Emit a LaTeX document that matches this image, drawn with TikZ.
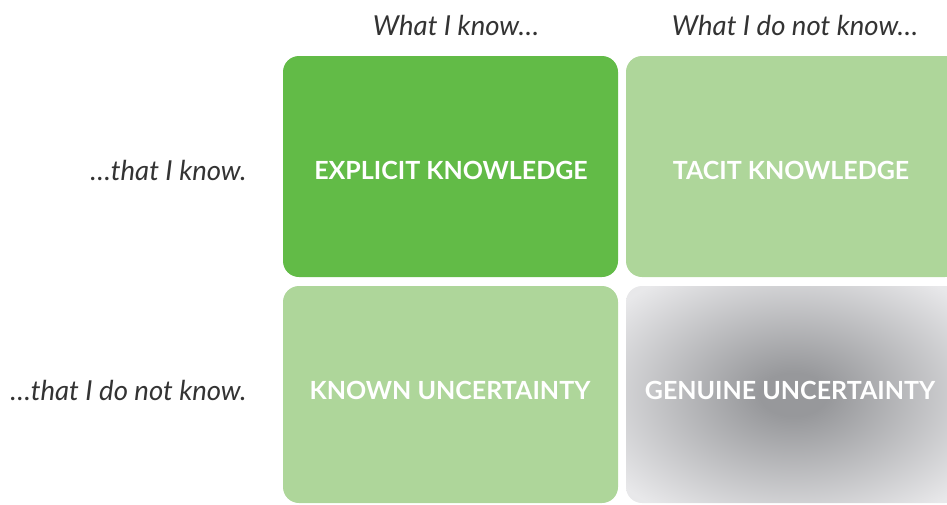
\documentclass[tikz,border=0pt]{standalone}
\usepackage{fontspec}
\setmainfont{Lato}
\definecolor{darkgreen}{HTML}{62BB47}
\definecolor{lightgreen}{HTML}{AED69A}
\definecolor{gcen}{HTML}{97989B}
\definecolor{gout}{HTML}{E8E8EA}
\definecolor{labelgray}{HTML}{333333}
\pgfdeclareradialshading{fog}{\pgfpoint{0bp}{0bp}}{%
  color(0bp)=(gcen); color(5bp)=(gcen); color(33bp)=(gout); color(60bp)=(gout)}
\begin{document}
\begin{tikzpicture}[x=1pt,y=-1pt,
  cell/.style={rounded corners=16pt},
  celltext/.style={text=white,font=\bfseries\fontsize{25}{28}\selectfont},
  axis/.style={text=labelgray,font=\itshape\fontsize{27.5}{30}\selectfont}]
\useasboundingbox (0,0) rectangle (947,504);
\begin{scope}
\clip (0,0) rectangle (947,504);
% quadrant tiles
\fill[cell,darkgreen] (283,56) rectangle (618,277);
\fill[cell,lightgreen] (626,56) rectangle (961,277);
\fill[cell,lightgreen] (283,286) rectangle (618,503);
\shade[cell,shading=fog] (626,286) rectangle (961,503);
\end{scope}
% tile captions
\node[celltext] (ek) at (451,170) {EXPLICIT KNOWLEDGE};
\node[celltext] (tk) at (791,170) {TACIT KNOWLEDGE};
\node[celltext] (ku) at (450,390) {KNOWN UNCERTAINTY};
\node[celltext] (gu) at (790,390) {GENUINE UNCERTAINTY};
% column headings
\node[axis] (c1) at (456,25) {What I know…};
\node[axis] (c2) at (795,25) {What I do not know…};
% row headings
\node[axis,anchor=east] (r1) at (250,170) {…that I know.};
\node[axis,anchor=east] (r2) at (250,390) {…that I do not know.};
\end{tikzpicture}
\end{document}
